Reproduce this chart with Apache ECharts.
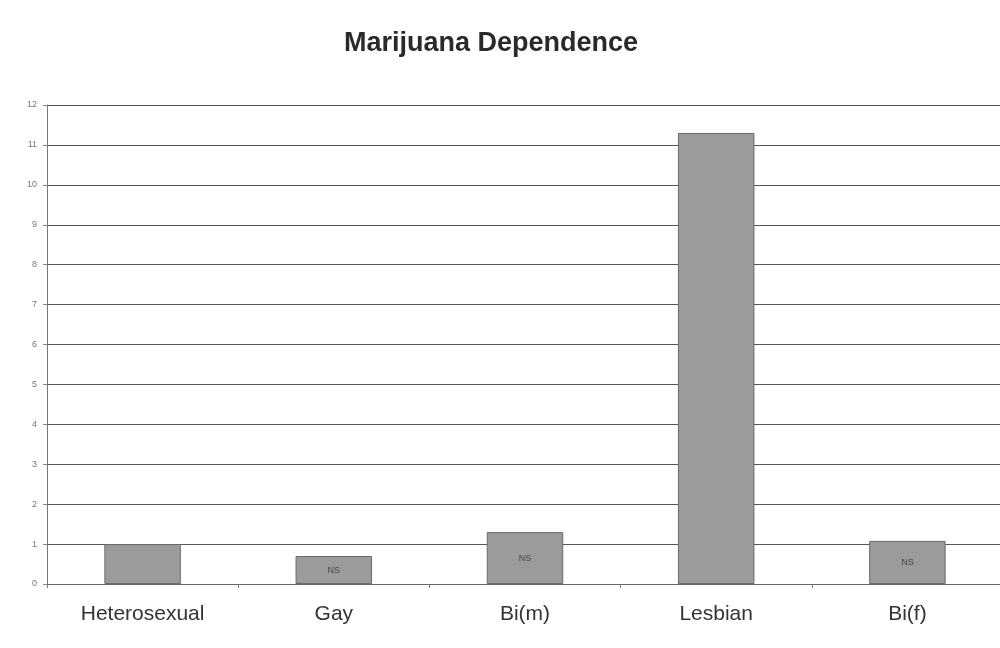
<!DOCTYPE html>
<html>
<head>
<meta charset="utf-8">
<script src="https://cdn.jsdelivr.net/npm/echarts@6/dist/echarts.min.js"></script>
<style>
  html, body { margin: 0; padding: 0; background: #fff; }
  #myChart { width: 1000px; height: 648px; }
</style>
</head>
<body>
<div id="myChart"></div>
<script>
// 数据
const categories = ['Heterosexual', 'Gay', 'Bi(m)', 'Lesbian', 'Bi(f)'];
const values = [1.0, 0.7, 1.3, 11.3, 1.08];
const barNotes = ['', 'NS', 'NS', '', 'NS'];

const chart = echarts.init(document.getElementById('myChart'));
const option = {
  animation: false,
  title: {
    text: 'Marijuana Dependence',
    left: 486,
    textAlign: 'center',
    top: 25,
    textStyle: {
      fontFamily: 'Liberation Sans',
      fontSize: 27,
      fontWeight: 'bold',
      color: '#2a2a2a'
    }
  },
  grid: {
    left: 47,
    top: 105,
    width: 956,
    height: 479,
    outerBoundsMode: 'none',
    containLabel: false
  },
  xAxis: {
    type: 'category',
    data: categories,
    axisLine: { lineStyle: { color: '#666', width: 1 } },
    axisTick: { show: true, length: 4, lineStyle: { color: '#777' } },
    axisLabel: {
      fontFamily: 'Liberation Sans',
      fontSize: 21,
      color: '#333',
      margin: 20
    }
  },
  yAxis: {
    type: 'value',
    min: 0,
    max: 12,
    interval: 1,
    axisLine: { show: true, lineStyle: { color: '#777', width: 1 } },
    axisTick: { show: true, length: 4, lineStyle: { color: '#888' } },
    axisLabel: {
      fontFamily: 'Liberation Sans',
      fontSize: 9,
      color: '#777',
      margin: 10
    },
    splitLine: { lineStyle: { color: '#555', width: 1 } }
  },
  series: [
    {
      type: 'bar',
      data: values,
      barWidth: '40%',
      itemStyle: {
        color: '#9b9b9b',
        borderColor: '#6a6a6a',
        borderWidth: 1
      },
      label: {
        show: true,
        position: 'inside',
        fontFamily: 'Liberation Sans',
        fontSize: 9,
        color: '#444',
        formatter: p => barNotes[p.dataIndex]
      }
    }
  ]
};
chart.setOption(option);
</script>
</body>
</html>
